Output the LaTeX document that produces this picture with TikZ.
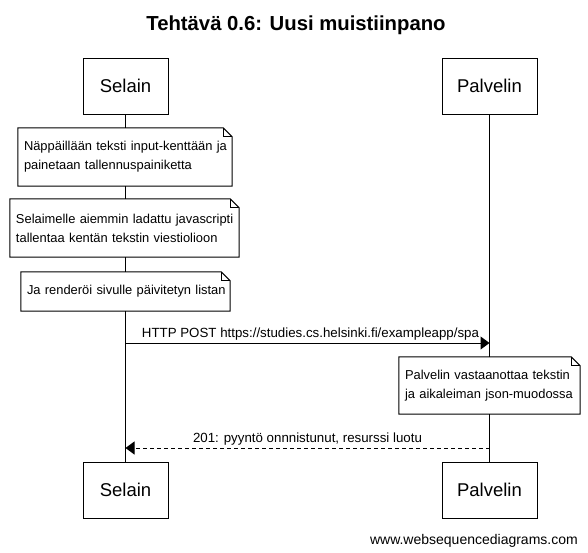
\documentclass[tikz,border=0pt]{standalone}
\usepackage{fontspec}
\setmainfont{Liberation Sans}
\usetikzlibrary{arrows.meta}
\begin{document}
\begin{tikzpicture}[x=1pt,y=-1pt,
  actor/.style={draw, line width=1pt, fill=white, minimum width=#1, minimum height=56pt, inner sep=0pt, font=\fontsize{18.5}{22}\selectfont},
  notebox/.style 2 args={fill=white, inner xsep=6pt, inner ysep=0pt, text width=#1, minimum height=#2, align=left, font=\fontsize{12.9}{19}\selectfont},
  msg/.style={line width=1pt, -{Triangle[length=9pt,width=13pt]}},
  reply/.style={msg, dash pattern=on 4pt off 3pt},
  lbl/.style={font=\fontsize{13.3}{15}\selectfont, inner sep=1pt}]
\useasboundingbox (0,0) rectangle (588,552);
\node[font=\bfseries\fontsize{20.3}{24}\selectfont] (title) at (296,25) {Tehtävä 0.6: Uusi muistiinpano};
% actors
\node[actor=85pt] (s1) at (125.5,86) {Selain};
\node[actor=95pt] (p1) at (489.5,86) {Palvelin};
\node[actor=85pt] (s2) at (125.5,490) {Selain};
\node[actor=95pt] (p2) at (489.5,490) {Palvelin};
% lifelines
\draw[line width=1pt] (s1.south) -- (s2.north);
\draw[line width=1pt] (p1.south) -- (p2.north);
% notes
\node[notebox={202pt}{58pt}] (n1) at (125,157) {\mbox{Näppäillään teksti input-kenttään ja}\\\mbox{painetaan tallennuspainiketta}};
\node[notebox={217pt}{58pt}] (n2) at (124.5,228) {\mbox{Selaimelle aiemmin ladattu javascripti}\\\mbox{tallentaa kentän tekstin viestiolioon}};
\node[notebox={197pt}{39pt}] (n3) at (125.5,291.5) {\mbox{Ja renderöi sivulle päivitetyn listan}};
\node[notebox={169pt}{57pt}] (n4) at (489.5,385.5) {\mbox{Palvelin vastaanottaa tekstin}\\\mbox{ja aikaleiman json-muodossa}};
\foreach \n in {n1,n2,n3,n4}{
  \draw[line width=1pt] (\n.north west) -- ([xshift=-9pt]\n.north east) -- ([yshift=-9pt]\n.north east) -- (\n.south east) -- (\n.south west) -- cycle;
  \draw[line width=0.8pt] ([xshift=-9pt]\n.north east) |- ([yshift=-9pt]\n.north east);
}
% messages
\coordinate (m1s) at (125.5,343);
\coordinate (m1e) at (489.5,343);
\coordinate (m2s) at (489.5,448);
\coordinate (m2e) at (125.5,448);
\draw[msg] (m1s) -- (m1e) node[lbl, midway, above=1pt, xshift=3pt] {HTTP POST https://studies.cs.helsinki.fi/exampleapp/spa};
\draw[reply] (m2s) -- (m2e) node[lbl, midway, above=1pt] {201: pyyntö onnnistunut, resurssi luotu};
% footer
\node[anchor=east, font=\fontsize{14}{16}\selectfont, inner sep=0pt] (footer) at (578,541) {www.websequencediagrams.com};
\end{tikzpicture}
\end{document}
